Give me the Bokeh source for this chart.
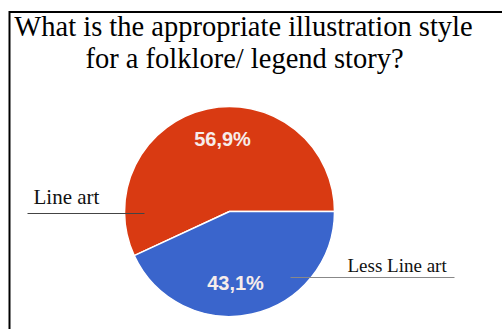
import numpy as np
from bokeh.plotting import figure
from bokeh.models import Range1d, ColumnDataSource
from bokeh.core.properties import value
from bokeh.embed import file_html
from bokeh.resources import INLINE

W, H = 502, 329

title_lines = ["What is the appropriate illustration style", "for a folklore/ legend story?"]
categories = ["Line art", "Less Line art"]
shares = [56.9, 43.1]
pct_labels = ["56,9%", "43,1%"]
colors = ["#D93A12", "#3A65CC"]

p = figure(width=W, height=H, output_backend="svg", toolbar_location=None,
           x_range=Range1d(0, W), y_range=Range1d(0, H), min_border=0)
p.axis.visible = False
p.grid.visible = False
p.outline_line_color = None
p.background_fill_color = "white"
p.border_fill_color = "white"

def Y(yp):
    return H - yp

# frame lines (top and left)
p.line([W + 5, 9, 9], [Y(11.5), Y(11.5), Y(H + 5)], line_color="black",
       line_width=2, line_join="miter")

# title
p.text(x=[243, 244], y=[Y(25.5), Y(57.5)], text=title_lines, text_align="center",
       text_baseline="middle", text_font=value("Liberation Serif"),
       text_font_size="28.5px", text_color="black")

# pie
cx, cy, r = 229, Y(211), 105
fr = np.array(shares) / sum(shares)
ends = np.cumsum(fr) * 2 * np.pi
starts = np.concatenate([[0], ends[:-1]])
src = ColumnDataSource(dict(start=starts, end=ends, color=colors, cat=categories))
p.wedge(x=cx, y=cy, radius=r, start_angle="start", end_angle="end",
        fill_color="color", line_color="white", line_width=1.5, source=src)

# percent labels
p.text(x=[222, 235], y=[Y(138), Y(282)], text=pct_labels, text_align="center",
       text_baseline="middle", text_font=value("Liberation Sans"),
       text_font_size="20px", text_font_style="bold", text_color="#F6ECEA")

# leader lines and category labels
p.line([27, 144], [Y(213), Y(213)], line_color="#444444", line_width=1)
p.line([290, 454], [Y(277), Y(277)], line_color="#888888", line_width=1)
p.text(x=[33], y=[Y(196)], text=categories[:1], text_align="left",
       text_baseline="middle", text_font=value("Liberation Serif"),
       text_font_size="21px", text_color="#111111")
p.text(x=[347], y=[Y(265)], text=categories[1:], text_align="left",
       text_baseline="middle", text_font=value("Liberation Serif"),
       text_font_size="19px", text_color="#111111")

open("out.html", "w").write(file_html(p, INLINE))
